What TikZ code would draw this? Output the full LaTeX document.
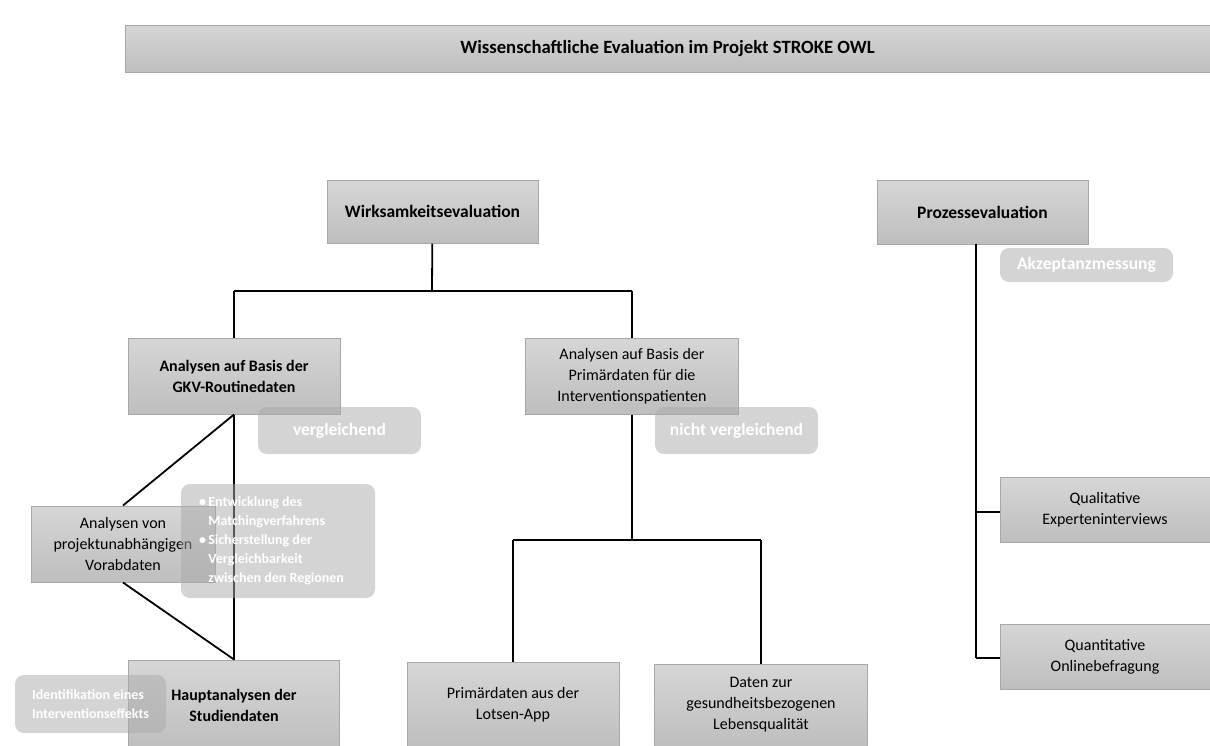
\documentclass[tikz,border=0pt]{standalone}
\usepackage{fontspec}
\setmainfont{Carlito}
\usetikzlibrary{calc}
\definecolor{box_top}{RGB}{214, 214, 214}
\definecolor{box_bottom}{RGB}{190, 190, 190}
\definecolor{box_line}{RGB}{168, 168, 168}
\definecolor{note_grey}{RGB}{170, 170, 170}
\tikzstyle{bx}=[rectangle,top color=box_top,bottom color=box_bottom,draw=box_line,
  line width=1pt,inner sep=2pt,align=center,font=\fontsize{16}{21}\selectfont]
\tikzstyle{bbx}=[bx,font=\fontsize{16}{21}\selectfont\bfseries]
\tikzstyle{hbx}=[bx,font=\fontsize{17.5}{21}\selectfont\bfseries]
\tikzstyle{note}=[rectangle,rounded corners=9pt,fill=note_grey,fill opacity=0.5,
  text opacity=1,text=white,align=center,font=\fontsize{14}{19}\selectfont\bfseries]
\tikzstyle{bignote}=[note,font=\fontsize{17.5}{21}\selectfont\bfseries]
\tikzstyle{wire}=[line width=1.8pt]
\tikzstyle{none}=[]

\begin{document}
\begin{tikzpicture}[x=1pt,y=-1pt]
            \useasboundingbox (0,0) rectangle (1210,745);
            \node [style=bx,font=\fontsize{18.7}{22}\selectfont\bfseries,minimum width=1085,minimum height=47] (0) at (667.5, 48.5) {Wissenschaftliche Evaluation im Projekt STROKE OWL};
            \node [style=hbx,minimum width=211,minimum height=63] (1) at (432.5, 211.5) {Wirksamkeitsevaluation};
            \node [style=hbx,minimum width=211,minimum height=64] (2) at (982.5, 212) {Prozessevaluation};
            \node [style=bbx,minimum width=212,minimum height=76] (3) at (234, 376) {Analysen auf Basis der\\GKV-Routinedaten};
            \node [style=bx,minimum width=213,minimum height=76] (4) at (632, 376) {Analysen auf Basis der\\Primärdaten für die\\Interventionspatienten};
            \node [style=bx,minimum width=184,minimum height=76] (5) at (123, 544) {Analysen von\\projektunabhängigen\\Vorabdaten};
            \node [style=bbx,minimum width=211,minimum height=90] (6) at (234, 705) {Hauptanalysen der\\Studiendaten};
            \node [style=bx,minimum width=212,minimum height=86] (7) at (513, 705) {Primärdaten aus der\\Lotsen-App};
            \node [style=bx,minimum width=213,minimum height=82] (8) at (761, 705) {Daten zur\\gesundheitsbezogenen\\Lebensqualität};
            \node [style=bx,minimum width=210,minimum height=65] (9) at (1105, 509.5) {Qualitative\\Experteninterviews};
            \node [style=bx,minimum width=210,minimum height=65] (10) at (1105, 656.5) {Quantitative\\Onlinebefragung};
            \node [style=none] (11) at (432, 291) {};
            \node [style=none] (12) at (234, 291) {};
            \node [style=none] (13) at (632, 291) {};
            \node [style=none] (14) at (632, 540) {};
            \node [style=none] (15) at (513, 540) {};
            \node [style=none] (16) at (761, 540) {};
            \node [style=none] (17) at (976, 243.5) {};
            \node [style=none] (18) at (976, 512) {};
            \node [style=none] (19) at (976, 658) {};
            \draw [style=wire] (1) to (11.center);
            \draw [style=wire] (12.center) to (13.center);
            \draw [style=wire] (12.center) to (3);
            \draw [style=wire] (13.center) to (4);
            \draw [style=wire] (3) to (6);
            \draw [style=wire] (3.south) to (5.north);
            \draw [style=wire] (5.south) to (6.north);
            \draw [style=wire] (4) to (14.center);
            \draw [style=wire] (15.center) to (16.center);
            \draw [style=wire] (15.center) to (7);
            \draw [style=wire] (16.center) to (8);
            \draw [style=wire] (17.center) to (19.center);
            \draw [style=wire] (18.center) to (18.center -| 9.west);
            \draw [style=wire] (19.center) to (19.center -| 10.west);
            \node [style=bignote,minimum width=173,minimum height=34] (20) at (1086.5, 265) {Akzeptanzmessung};
            \node [style=bignote,minimum width=163,minimum height=47] (21) at (339.5, 430.5) {vergleichend};
            \node [style=bignote,minimum width=163,minimum height=47] (22) at (736.5, 430.5) {nicht vergleichend};
            \node [style=note,minimum width=194,minimum height=114,align=left] (23) at (278, 541) {\begin{tabular}{@{}l@{\,}l@{\hspace{13pt}}}
              \textbullet & Entwicklung des\\
                          & Matchingverfahrens\\
              \textbullet & Sicherstellung der\\
                          & Vergleichbarkeit\\
                          & zwischen den Regionen
            \end{tabular}};
            \node [style=note,minimum width=151,minimum height=58,align=left] (24) at (90.5, 704) {Identifikation eines\\Interventionseffekts};
    \end{tikzpicture}
\end{document}
